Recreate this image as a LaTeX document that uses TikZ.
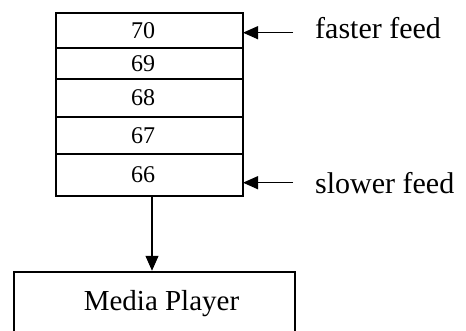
\documentclass[tikz,border=0pt]{standalone}
\usepackage{fontspec}
\setmainfont{Liberation Serif}
\usetikzlibrary{arrows.meta}
\usetikzlibrary{positioning}

\tikzset{
  slot/.style={draw, line width=1.2pt, minimum width=187pt, inner sep=0pt, outer sep=0pt,
    font=\fontsize{24}{28}\selectfont, execute at end node=\hspace*{13pt}},
  player/.style={draw, line width=2.5pt, minimum width=281pt, minimum height=64pt,
    inner sep=0pt, font=\fontsize{29}{34}\selectfont, execute at begin node=\hspace*{14pt}},
  feedtxt/.style={inner sep=0pt, anchor=base west, font=\fontsize{30}{36}\selectfont},
  feed/.style={-{Triangle[length=15pt,width=13pt]}, line width=1.2pt},
}

\begin{document}
\begin{tikzpicture}[x=1pt,y=-1pt]
      \useasboundingbox (0,0) rectangle (466,330);
      % buffer slots
      \node[slot, minimum height=35pt] (s70) at (149.5,30.5) {70};
      \node[slot, minimum height=31pt] (s69) at (149.5,63.5) {69};
      \node[slot, minimum height=38pt] (s68) at (149.5,98) {68};
      \node[slot, minimum height=37pt] (s67) at (149.5,135.5) {67};
      \node[slot, minimum height=42pt] (s66) at (149.5,175) {66};
      % player
      \node[player] (mp) at (154.5,304) {Media Player};
      \draw[feed] ([xshift=2.5pt]s66.south) -- ([xshift=2.5pt]s66.south |- mp.north);
      % feeds
      \node[feedtxt] (fast) at (315,38) {faster feed};
      \node[feedtxt] (slow) at (315,193) {slower feed};
      \coordinate (fastTail) at (293,32.7);
      \coordinate (slowTail) at (293,182.7);
      \draw[feed] (fastTail) -- (fastTail -| s70.east);
      \draw[feed] (slowTail) -- (slowTail -| s66.east);
\end{tikzpicture}
\end{document}
